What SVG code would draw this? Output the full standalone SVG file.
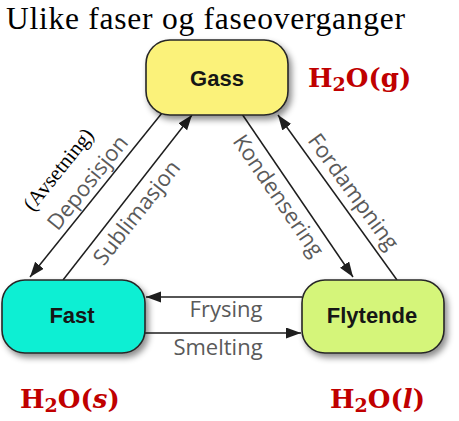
<svg xmlns="http://www.w3.org/2000/svg" width="459" height="421" viewBox="0 0 459 421">
<style>
.node{stroke:#262626;stroke-width:1.6}
.nlab{font-family:"Liberation Sans",Arial,sans-serif;font-weight:bold;font-size:22px;fill:#161616;text-anchor:middle}
.lab{font-family:"Open Sans","Liberation Sans",sans-serif;font-size:22px;fill:#5a5a5a;text-anchor:middle}
.conn{stroke:#1e1e1e;stroke-width:1.5;fill:none;marker-end:url(#ah)}
.chem{font-family:"DejaVu Serif","Liberation Serif",serif;font-weight:bold;font-size:26px;fill:#c00000}
</style>
<defs>
<marker id="ah" markerUnits="userSpaceOnUse" markerWidth="16" markerHeight="12" refX="15" refY="5.5" orient="auto">
<path d="M0,0 L15,5.5 L0,11 z" fill="#1e1e1e"/>
</marker>
<filter id="sh" x="-20%" y="-20%" width="150%" height="160%">
<feDropShadow dx="3" dy="4" stdDeviation="3" flood-color="#000" flood-opacity="0.45"/>
</filter>
</defs>
<rect width="459" height="421" fill="#ffffff"/>
<text x="6" y="29" font-family="'Liberation Serif','Times New Roman',serif" font-size="31.5" textLength="399" fill="#000">Ulike faser og faseoverganger</text>

<g id="connectors">
<line class="conn" x1="162" y1="113" x2="30" y2="277"/>
<line class="conn" x1="63" y1="280" x2="192" y2="115"/>
<line class="conn" x1="242" y1="114" x2="353" y2="277"/>
<line class="conn" x1="397" y1="280" x2="278" y2="115"/>
<line class="conn" x1="302" y1="297" x2="146" y2="297"/>
<line class="conn" x1="145" y1="333" x2="301" y2="333"/>
<text class="lab" transform="translate(88,183) rotate(-51.2)" x="0" y="7">Deposisjon</text>
<text transform="translate(59,170) rotate(-51.2)" x="0" y="6" font-family="'Liberation Serif','Times New Roman',serif" font-size="21" fill="#000" text-anchor="middle">(Avsetning)</text>
<text class="lab" transform="translate(137,213) rotate(-51.8)" x="0" y="7">Sublimasjon</text>
<text class="lab" transform="translate(278,196) rotate(55.6)" x="0" y="7">Kondensering</text>
<text class="lab" transform="translate(353,192) rotate(54)" x="0" y="7">Fordampning</text>
<text class="lab" x="226" y="317">Frysing</text>
<text class="lab" x="218" y="355">Smelting</text>
</g>

<g id="gass">
<rect class="node" x="146" y="40" width="142" height="75" rx="24" fill="#fbf27a" filter="url(#sh)"/>
<text class="nlab" x="217" y="86">Gass</text>
<text class="chem" x="308" y="87">H<tspan font-size="19" dy="4">2</tspan><tspan dy="-4">O(g)</tspan></text>
</g>

<g id="fast">
<rect class="node" x="2" y="280" width="143" height="73" rx="23" fill="#10efd3" filter="url(#sh)"/>
<text class="nlab" x="72" y="323">Fast</text>
<text class="chem" x="20" y="408">H<tspan font-size="19" dy="4">2</tspan><tspan dy="-4">O(</tspan><tspan font-style="italic">s</tspan>)</text>
</g>

<g id="flytende">
<rect class="node" x="302" y="280" width="142" height="73" rx="23" fill="#d5f57a" filter="url(#sh)"/>
<text class="nlab" x="372" y="323">Flytende</text>
<text class="chem" x="330" y="408">H<tspan font-size="19" dy="4">2</tspan><tspan dy="-4">O(</tspan><tspan font-style="italic">l</tspan>)</text>
</g>
</svg>
